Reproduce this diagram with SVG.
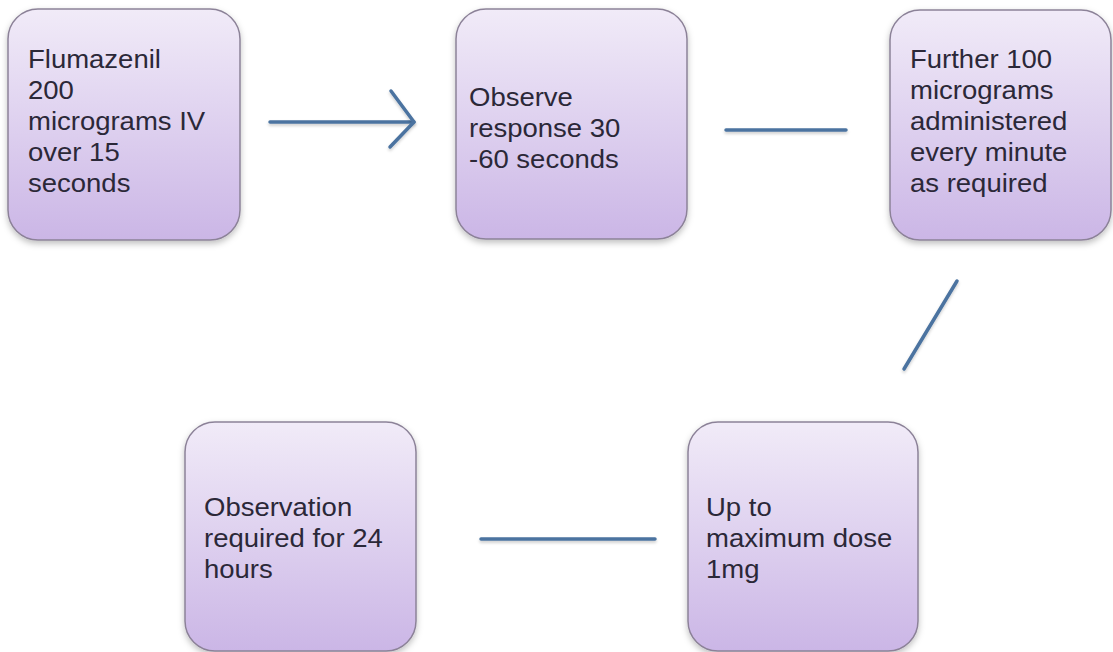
<svg xmlns="http://www.w3.org/2000/svg" width="1113" height="652" viewBox="0 0 1113 652">
<defs>
<linearGradient id="g" x1="0" y1="0" x2="0" y2="1">
<stop offset="0" stop-color="#f1ebf8"/>
<stop offset="1" stop-color="#cbb6e6"/>
</linearGradient>
<filter id="sh" x="-10%" y="-10%" width="120%" height="125%">
<feDropShadow dx="0" dy="3" stdDeviation="3" flood-color="#000" flood-opacity="0.25"/>
</filter>
<filter id="lsh" filterUnits="userSpaceOnUse" x="0" y="0" width="1113" height="652">
<feDropShadow dx="0" dy="2" stdDeviation="1.5" flood-color="#000" flood-opacity="0.2"/>
</filter>
</defs>
<style>
.box{fill:url(#g);stroke:#8c8298;stroke-width:1.5;filter:url(#sh)}
.t{font-family:"Liberation Sans",Arial,sans-serif;font-size:25px;fill:#2b2838}
.c{stroke:#4b73a0;stroke-width:3.5;fill:none;stroke-linecap:round;stroke-linejoin:round;filter:url(#lsh)}
</style>
<rect width="1113" height="652" fill="#fff"/>
<g id="connectors">
<path class="c" d="M270,122 H414"/>
<path class="c" d="M391,91 L414,122 L390,147"/>
<path class="c" d="M726,130 H846"/>
<path class="c" d="M957,281 L904,369"/>
<path class="c" d="M481,539 H655"/>
</g>
<g id="n1">
<rect class="box" x="8" y="9" width="232" height="231" rx="30"/>
<text class="t" transform="translate(28,0) scale(1.1,1)" x="0" y="68">Flumazenil<tspan x="0" y="99">200</tspan><tspan x="0" y="130">micrograms IV</tspan><tspan x="0" y="161">over 15</tspan><tspan x="0" y="192">seconds</tspan></text>
</g>
<g id="n2">
<rect class="box" x="456" y="9" width="231" height="230" rx="30"/>
<text class="t" transform="translate(469,0) scale(1.1,1)" x="0" y="106">Observe<tspan x="0" y="137">response 30</tspan><tspan x="0" y="168">-60 seconds</tspan></text>
</g>
<g id="n3">
<rect class="box" x="890" y="10" width="221" height="230" rx="30"/>
<text class="t" transform="translate(910,0) scale(1.1,1)" x="0" y="68">Further 100<tspan x="0" y="99">micrograms</tspan><tspan x="0" y="130">administered</tspan><tspan x="0" y="161">every minute</tspan><tspan x="0" y="192">as required</tspan></text>
</g>
<g id="n4">
<rect class="box" x="185" y="422" width="231" height="229" rx="30"/>
<text class="t" transform="translate(204,0) scale(1.1,1)" x="0" y="516">Observation<tspan x="0" y="547">required for 24</tspan><tspan x="0" y="578">hours</tspan></text>
</g>
<g id="n5">
<rect class="box" x="688" y="422" width="230" height="229" rx="30"/>
<text class="t" transform="translate(706,0) scale(1.1,1)" x="0" y="516">Up to<tspan x="0" y="547">maximum dose</tspan><tspan x="0" y="578">1mg</tspan></text>
</g>
</svg>
